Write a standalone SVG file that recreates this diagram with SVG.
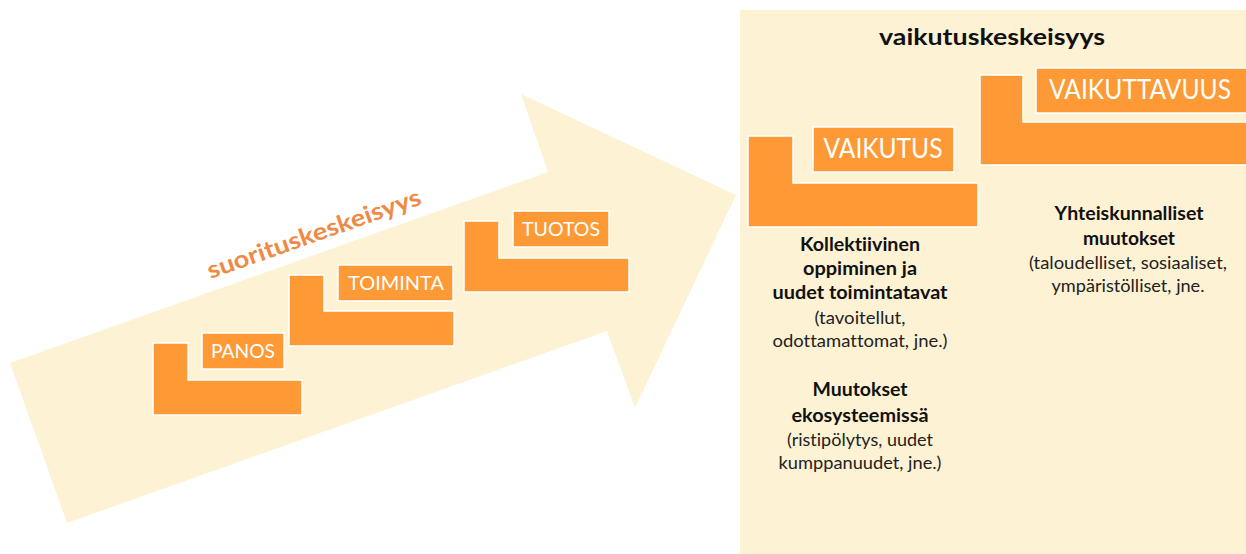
<svg xmlns="http://www.w3.org/2000/svg" width="1246" height="554" viewBox="0 0 1246 554">
<style>
text{font-variant-ligatures:none;font-feature-settings:"liga" 0,"dlig" 0}
.bg{fill:#FEF2D4}
.blk{fill:#FD9A36;stroke:#FFFFFF;stroke-width:1.5}
.lbl{font-family:Lato,"Open Sans",sans-serif;font-size:20px;fill:#FFFFFF;text-anchor:middle}
.big{font-size:26px}
.b{font-family:Lato,"Open Sans",sans-serif;font-weight:bold;font-size:18px;fill:#111111;text-anchor:middle}
.n{font-family:Lato,"Open Sans",sans-serif;font-size:16.5px;fill:#222222;text-anchor:middle}
</style>
<rect width="1246" height="554" fill="#FFFFFF"/>
<g id="arrow">
<polygon class="bg" points="10,363 548,172 521,94 736,195 635,408 607,331 67,523"/>
<text transform="translate(314,234) rotate(-19.5)" x="0" y="8" text-anchor="middle" textLength="225" lengthAdjust="spacingAndGlyphs" style="font-family:Lato,'Open Sans',sans-serif;font-weight:bold;font-size:24px;fill:#EF8A45">suorituskeskeisyys</text>
</g>
<g id="panel">
<rect class="bg" x="740" y="10" width="506" height="544"/>
<text x="992" y="45" text-anchor="middle" textLength="226" lengthAdjust="spacingAndGlyphs" style="font-family:Lato,'Open Sans',sans-serif;font-weight:bold;font-size:23px;fill:#111111">vaikutuskeskeisyys</text>
</g>
<g id="panos">
<path class="blk" d="M153,343 H188 V380 H302 V415 H153 Z"/>
<rect class="blk" x="202" y="333" width="82" height="36"/>
<text class="lbl" x="243" y="358" textLength="64" lengthAdjust="spacingAndGlyphs">PANOS</text>
</g>
<g id="toiminta">
<path class="blk" d="M289,275 H324 V311 H454 V346 H289 Z"/>
<rect class="blk" x="338" y="265" width="115" height="36"/>
<text class="lbl" x="396" y="290" textLength="96" lengthAdjust="spacingAndGlyphs">TOIMINTA</text>
</g>
<g id="tuotos">
<path class="blk" d="M464,221 H499 V258 H629 V292 H464 Z"/>
<rect class="blk" x="513" y="211" width="96" height="36"/>
<text class="lbl" x="561" y="236" textLength="78" lengthAdjust="spacingAndGlyphs">TUOTOS</text>
</g>
<g id="vaikutus">
<path class="blk" d="M748,136 H793 V183 H978 V227 H748 Z"/>
<rect class="blk" x="813" y="127" width="141" height="45"/>
<text class="lbl big" x="883" y="158" textLength="119" lengthAdjust="spacingAndGlyphs">VAIKUTUS</text>
</g>
<g id="vaikuttavuus">
<path class="blk" d="M980,75 H1023 V122 H1252 V165 H980 Z"/>
<rect class="blk" x="1036" y="68" width="215" height="45"/>
<text class="lbl big" x="1140" y="99" textLength="182" lengthAdjust="spacingAndGlyphs">VAIKUTTAVUUS</text>
</g>
<g id="text-vaikutus">
<text class="b" x="860" y="251" textLength="120" lengthAdjust="spacingAndGlyphs">Kollektiivinen</text>
<text class="b" x="860" y="275" textLength="114" lengthAdjust="spacingAndGlyphs">oppiminen ja</text>
<text class="b" x="860" y="299" textLength="175" lengthAdjust="spacingAndGlyphs">uudet toimintatavat</text>
<text class="n" x="860" y="324" textLength="91" lengthAdjust="spacingAndGlyphs">(tavoitellut,</text>
<text class="n" x="860" y="347" textLength="175" lengthAdjust="spacingAndGlyphs">odottamattomat, jne.)</text>
<text class="b" x="860" y="396" textLength="95" lengthAdjust="spacingAndGlyphs">Muutokset</text>
<text class="b" x="860" y="422" textLength="137" lengthAdjust="spacingAndGlyphs">ekosysteemissä</text>
<text class="n" x="860" y="446" textLength="146" lengthAdjust="spacingAndGlyphs">(ristipölytys, uudet</text>
<text class="n" x="860" y="469" textLength="163" lengthAdjust="spacingAndGlyphs">kumppanuudet, jne.)</text>
</g>
<g id="text-vaikuttavuus">
<text class="b" x="1129" y="220" textLength="149" lengthAdjust="spacingAndGlyphs">Yhteiskunnalliset</text>
<text class="b" x="1129" y="245" textLength="92" lengthAdjust="spacingAndGlyphs">muutokset</text>
<text class="n" x="1128" y="269" textLength="198" lengthAdjust="spacingAndGlyphs">(taloudelliset, sosiaaliset,</text>
<text class="n" x="1128" y="292" textLength="153" lengthAdjust="spacingAndGlyphs">ympäristölliset, jne.</text>
</g>
<g id="connectors"></g>
</svg>
